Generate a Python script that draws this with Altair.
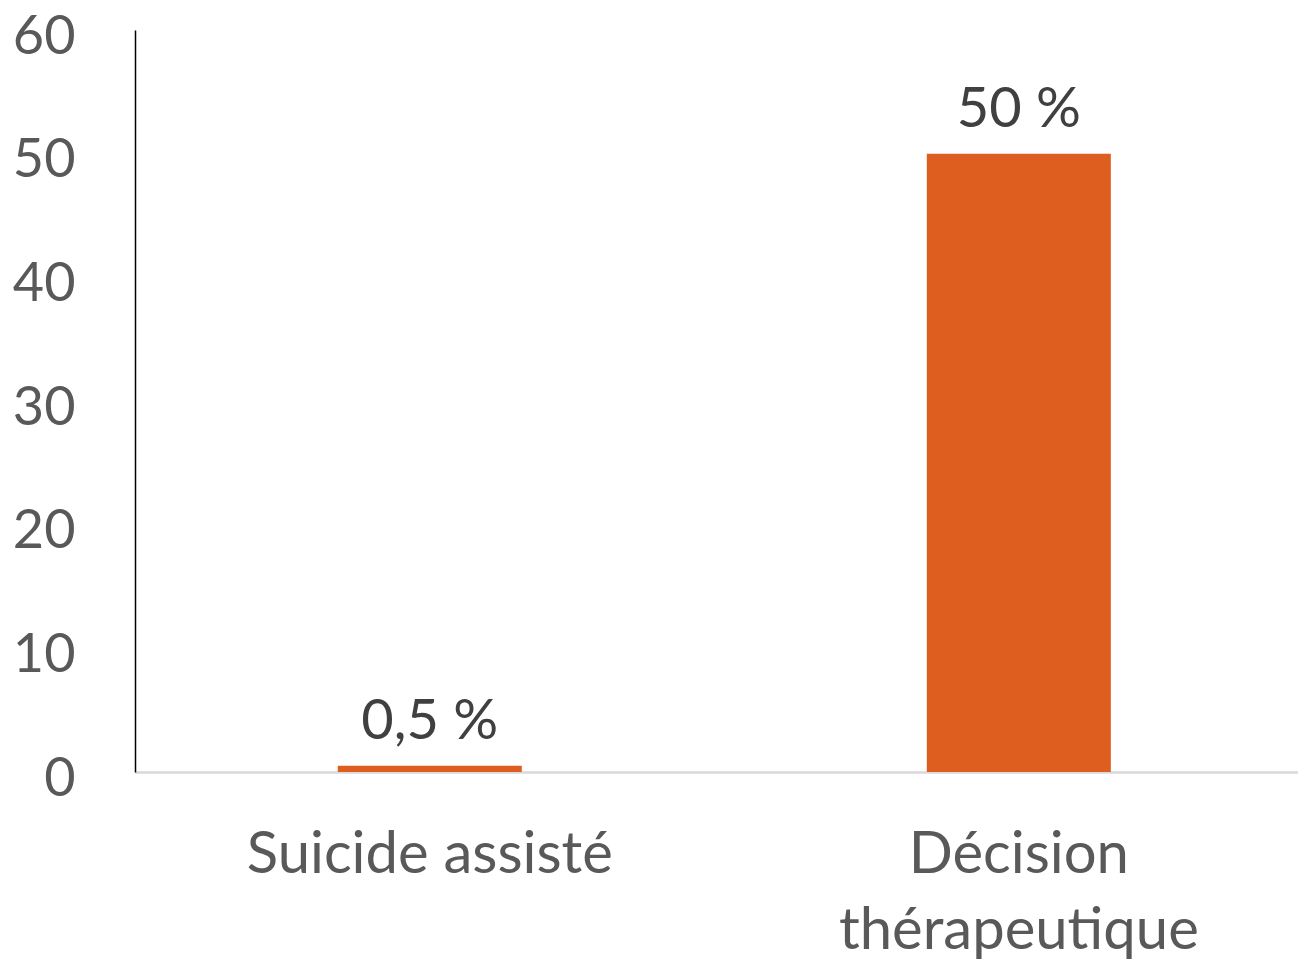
import altair as alt
import pandas as pd

categories = ["Suicide assisté", "Décision|thérapeutique"]
values = [0.5, 50]
labels = ["0,5 %", "50 %"]
y_ticks = [0, 10, 20, 30, 40, 50, 60]

df = pd.DataFrame({"cat": categories, "val": values, "lab": labels})

FONT = "Lato"
BAR = "#DD5E1E"

x = alt.X("cat:N", sort=categories, title=None,
          scale=alt.Scale(paddingInner=0.6876, paddingOuter=0.331, align=0.52),
          axis=alt.Axis(labelAngle=0, labelFont=FONT, labelFontSize=58, labelColor="#595959",
                        labelExpr="split(datum.label, '|')", labelLineHeight=76,
                        labelPadding=54, labelLimit=800, ticks=False, domainColor="#D9D9D9",
                        domainWidth=2.5, labelBaseline="top"))
y = alt.Y("val:Q", title=None,
          scale=alt.Scale(domain=[0, 60], nice=False),
          axis=alt.Axis(values=y_ticks, grid=False, ticks=False, domainColor="#000000",
                        domainWidth=1.5, labelFont=FONT, labelFontSize=54, labelColor="#595959",
                        labelPadding=60, labelOffset=7))

bars = alt.Chart(df).mark_bar(color=BAR).encode(x=x, y=y)
text = alt.Chart(df).mark_text(font=FONT, fontSize=56, color="#404040", baseline="alphabetic",
                               dy=-27).encode(x=alt.X("cat:N", sort=categories), y="val:Q", text="lab:N")

chart = (bars + text).properties(
    width=1163, height=742,
    autosize=alt.AutoSizeParams(type="none"),
    padding={"left": 135, "top": 30, "right": 0, "bottom": 190},
    background="white",
).configure_view(stroke=None)

chart.save("out.html", embed_options={"renderer": "svg", "actions": False})
